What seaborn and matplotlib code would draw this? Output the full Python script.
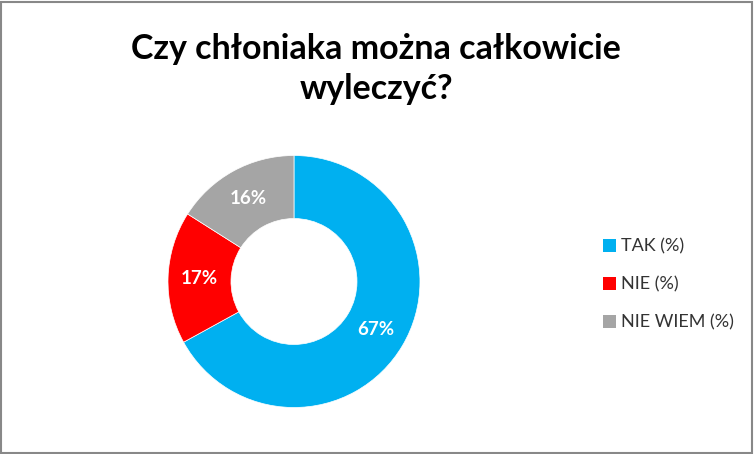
import matplotlib
matplotlib.use("Agg")
import matplotlib.pyplot as plt
import seaborn as sns
from matplotlib.patches import Patch, Rectangle

categories = ["TAK (%)", "NIE (%)", "NIE WIEM (%)"]
values = [67, 17, 16]
colors = ["#00B0F0", "#FF0000", "#A5A5A5"]
title = "Czy chłoniaka można całkowicie\nwyleczyć?"

sns.set_theme(style="white")
plt.rcParams["font.family"] = ["Lato", "DejaVu Sans"]

fig = plt.figure(figsize=(7.54, 4.54), dpi=100)
fig.patch.set_facecolor("white")

ax = fig.add_axes([0.2228, 0.1024, 0.3342, 0.5551])
wedges, texts, autotexts = ax.pie(
    values, colors=colors, startangle=90, counterclock=False,
    radius=1.0, wedgeprops=dict(width=0.5, edgecolor="white", linewidth=0.5),
    autopct=lambda p: f"{p:.0f}%", pctdistance=0.75,
    textprops=dict(color="white", fontsize=13.5, fontweight="bold"),
)
ax.set_xlim(-1, 1)
ax.set_ylim(-1, 1)
ax.set_aspect("equal")
ax.axis("off")

fig.text(0.4987, 0.848, title, ha="center", va="center",
         fontsize=24.5, fontweight="bold", color="black", linespacing=1.3)

handles = [Patch(facecolor=c, edgecolor="none") for c in colors]
fig.legend(handles, categories, loc="center left",
           bbox_to_anchor=(0.7905, 0.373), frameon=False,
           fontsize=13, handlelength=0.7, handleheight=0.7,
           handletextpad=0.3, labelspacing=1.2, borderaxespad=0,
           labelcolor="#333333")

fig.patches.append(Rectangle((0.0015, 0.003), 0.996, 0.9935, transform=fig.transFigure,
                             fill=False, edgecolor="#888888", linewidth=1.5))

fig.savefig("out.png", dpi=100)
